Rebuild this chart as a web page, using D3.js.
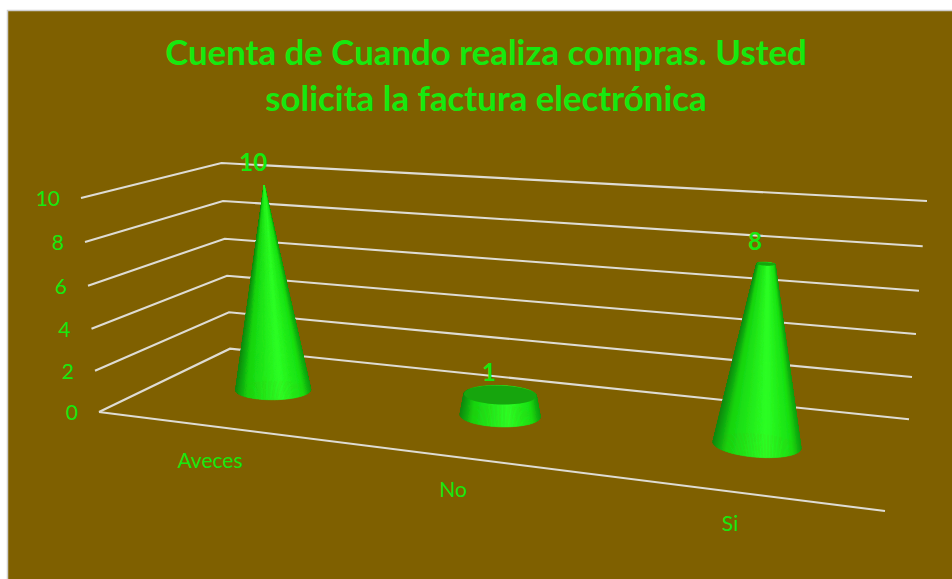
<!DOCTYPE html>
<html>
<head>
<meta charset="utf-8">
<script src="https://cdn.jsdelivr.net/npm/d3@7"></script>
<style>
html, body { margin: 0; padding: 0; background: #fff; overflow: hidden; }
svg { display: block; font-family: Lato, "Open Sans", sans-serif; }
</style>
</head>
<body>
<svg id="chart" width="952" height="579"></svg>
<script>
// data
const categories = ['Aveces', 'No', 'Si'];
const values = [10, 1, 8];
const ticks = [0, 2, 4, 6, 8, 10];
const titleLines = ['Cuenta de Cuando realiza compras. Usted', 'solicita la factura electrónica'];

const width = 952;
const height = 579;
const maxVal = 10;
const labelColor = '#17e80f';

const svg = d3.select('#chart');

// the reference is a slightly soft screenshot
const defs = svg.append('defs');
defs.append('filter').attr('id', 'soft')
	.attr('x', '-10%').attr('y', '-10%').attr('width', '120%').attr('height', '120%')
	.append('feGaussianBlur').attr('stdDeviation', 0.7);
defs.append('filter').attr('id', 'softLine')
	.attr('filterUnits', 'userSpaceOnUse')
	.attr('x', 0).attr('y', 0).attr('width', width).attr('height', height)
	.append('feGaussianBlur').attr('stdDeviation', 0.4);

// chart area
svg.append('rect')
	.attr('x', 7.5)
	.attr('y', 10.5)
	.attr('width', width)
	.attr('height', height)
	.attr('fill', '#7f6000')
	.attr('stroke', '#cfcfcf')
	.attr('stroke-width', 1.5);

svg.append('g')
	.selectAll('text')
	.data(titleLines)
	.enter()
	.append('text')
	.attr('x', 486)
	.attr('y', (d, i) => 65 + i * 46)
	.attr('text-anchor', 'middle')
	.attr('font-size', 34.8)
	.attr('font-weight', 700)
	.attr('fill', labelColor)
	.text(d => d);

// corners of the 3d box, one scale per corner (value -> pixel)
const frontLeftX = d3.scaleLinear().domain(ticks).range([99, 95, 91.5, 88, 85, 81]);
const frontLeftY = d3.scaleLinear().domain(ticks).range([412, 370.7, 328.7, 285.7, 242, 198]);
const backLeftX = d3.scaleLinear().domain(ticks).range([230, 229, 227, 224.7, 223, 221.5]);
const backLeftY = d3.scaleLinear().domain(ticks).range([348.7, 312.3, 275.7, 238.7, 201, 163]);
const backRightX = d3.scaleLinear().domain(ticks).range([909, 912, 916, 919, 922.7, 927]);
const backRightY = d3.scaleLinear().domain(ticks).range([419.3, 377, 334, 290.7, 246.3, 201]);
const frontRightX = d3.scaleLinear().domain([0, 10]).range([885, 904]);
const frontRightY = d3.scaleLinear().domain([0, 10]).range([511, 261]);
// upright lines of the box meet far below the chart
const vanish = [500, 5500];

// unit square to quad
function homography(p0, p1, p2, p3) {
	const dx1 = p1[0] - p2[0], dx2 = p3[0] - p2[0], sx = p0[0] - p1[0] + p2[0] - p3[0];
	const dy1 = p1[1] - p2[1], dy2 = p3[1] - p2[1], sy = p0[1] - p1[1] + p2[1] - p3[1];
	const den = dx1 * dy2 - dx2 * dy1;
	const g = (sx * dy2 - dx2 * sy) / den;
	const h = (dx1 * sy - sx * dy1) / den;
	const a = p1[0] - p0[0] + g * p1[0], b = p3[0] - p0[0] + h * p3[0], c = p0[0];
	const d = p1[1] - p0[1] + g * p1[1], e = p3[1] - p0[1] + h * p3[1], f = p0[1];
	return (u, v) => {
		const w = g * u + h * v + 1;
		return [(a * u + b * v + c) / w, (d * u + e * v + f) / w];
	};
}

function planeAt(val) {
	return [
		[frontLeftX(val), frontLeftY(val)],
		[frontRightX(val), frontRightY(val)],
		[backRightX(val), backRightY(val)],
		[backLeftX(val), backLeftY(val)]
	];
}
const floorPlane = homography(...planeAt(0));
const topPlane = homography(...planeAt(maxVal));

function project(u, v, val) {
	const a = floorPlane(u, v), b = topPlane(u, v);
	const t = (frontLeftY(0) - frontLeftY(val)) / (frontLeftY(0) - frontLeftY(maxVal));
	const rise = (a[1] - b[1]) * t;
	return [a[0] + rise * (a[0] - vanish[0]) / (vanish[1] - a[1]), a[1] - rise];
}

const band = d3.scaleBand().domain(categories).range([0, 1]);
const uCenter = c => band(c) + band.bandwidth() / 2;
const vCenter = 0.5;
const radiusU = 0.053;
const radiusV = 0.135;

const lines = svg.append('g').attr('filter', 'url(#softLine)');

// gridlines
lines.append('g')
	.selectAll('path')
	.data(ticks)
	.enter()
	.append('path')
	.attr('d', t => d3.line()([
		[frontLeftX(t), frontLeftY(t)],
		[backLeftX(t), backLeftY(t)],
		[backRightX(t), backRightY(t)]
	]))
	.attr('fill', 'none')
	.attr('stroke', '#dedcd4')
	.attr('stroke-width', 2.1);

// floor front edge
lines.append('path')
	.attr('d', d3.line()([
		[frontLeftX(0), frontLeftY(0)],
		[frontRightX(0), frontRightY(0)]
	]))
	.attr('fill', 'none')
	.attr('stroke', '#dedcd4')
	.attr('stroke-width', 2.1);

// value axis labels
svg.append('g')
	.selectAll('text')
	.data(ticks)
	.enter()
	.append('text')
	.attr('x', t => frontLeftX(t) - 21)
	.attr('y', t => frontLeftY(t) + 8)
	.attr('text-anchor', 'end')
	.attr('font-size', 21)
	.attr('fill', labelColor)
	.text(t => t);

// category labels
const catX = d3.scaleOrdinal().domain(categories).range([210, 453, 730]);
const catY = d3.scaleOrdinal().domain(categories).range([468, 497, 531]);
svg.append('g')
	.selectAll('text')
	.data(categories)
	.enter()
	.append('text')
	.attr('x', c => catX(c))
	.attr('y', c => catY(c))
	.attr('text-anchor', 'middle')
	.attr('font-size', 21)
	.attr('fill', labelColor)
	.text(c => c);

// cone shading, s goes from -1 (left edge) to 1 (right edge)
const shade = d3.scaleLinear()
	.domain([-1, -0.7, 0.2, 0.8, 1])
	.range(['#0f8a0b', '#16d410', '#2dff25', '#18e012', '#10a00c']);

const cones = svg.append('g');
const sliceCount = 180;

categories.forEach((c, i) => {
	const val = values[i];
	const u = uCenter(c);
	const topR = 1 - val / maxVal;
	const g = cones.append('g').attr('class', 'cone').attr('filter', 'url(#soft)');
	const ring = (th, val2, k) => project(u + radiusU * k * Math.cos(th), vCenter + radiusV * k * Math.sin(th), val2);

	const baseX = d3.extent(d3.range(sliceCount), j => ring(j / sliceCount * 2 * Math.PI, 0, 1)[0]);
	const across = d3.scaleLinear().domain(baseX).range([-1, 1]).clamp(true);

	// slices of the whole ring, back ones first, front ones paint over them
	const slices = d3.range(sliceCount).map(j => {
		const a = j / sliceCount * 2 * Math.PI;
		const b = (j + 1) / sliceCount * 2 * Math.PI;
		const pts = [ring(a, 0, 1), ring(b, 0, 1), ring(b, val, topR), ring(a, val, topR)];
		return { pts, x: (pts[0][0] + pts[1][0]) / 2, y: (pts[0][1] + pts[1][1]) / 2 };
	});
	slices.sort((p, q) => d3.ascending(p.y, q.y));
	slices.forEach(s => {
		const col = shade(across(s.x));
		g.append('path')
			.attr('d', d3.line()(s.pts) + 'Z')
			.attr('fill', col)
			.attr('stroke', col)
			.attr('stroke-width', 0.6);
	});

	// flat cap of a cut off cone
	if (topR > 0) {
		const cap = d3.range(72).map(j => ring(j / 72 * 2 * Math.PI, val, topR));
		g.append('path')
			.attr('d', d3.line()(cap) + 'Z')
			.attr('fill', '#14a50e');
	}
});

// data labels
svg.append('g')
	.selectAll('text')
	.data(categories)
	.enter()
	.append('text')
	.attr('x', c => project(uCenter(c), vCenter, values[categories.indexOf(c)])[0] - 11)
	.attr('y', c => project(uCenter(c), vCenter, values[categories.indexOf(c)])[1] - 14)
	.attr('text-anchor', 'middle')
	.attr('font-size', 24)
	.attr('font-weight', 700)
	.attr('fill', labelColor)
	.text(c => values[categories.indexOf(c)]);
</script>
</body>
</html>
